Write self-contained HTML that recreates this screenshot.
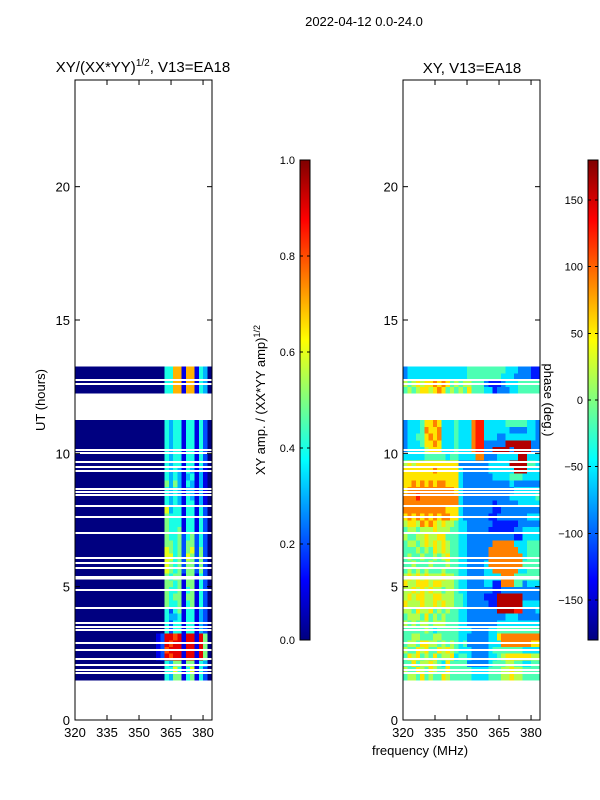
<!DOCTYPE html>
<html><head><meta charset="utf-8">
<style>
html,body{margin:0;padding:0;background:#fff;}
svg{display:block;font-family:"Liberation Sans",sans-serif;}
</style></head>
<body>
<svg id="fig" width="600" height="800" viewBox="0 0 600 800" xmlns="http://www.w3.org/2000/svg">
<rect width="600" height="800" fill="#fff"/>
<text x="364" y="26" font-size="13" text-anchor="middle">2022-04-12 0.0-24.0</text>
<text x="143" y="72" font-size="15" text-anchor="middle">XY/(XX*YY)<tspan font-size="10" dy="-6">1/2</tspan><tspan dy="6">, V13=EA18</tspan></text>
<text x="472" y="73" font-size="15" text-anchor="middle">XY, V13=EA18</text>
<text x="45" y="400" font-size="13" text-anchor="middle" transform="rotate(-90 45 400)">UT (hours)</text>
<text x="420" y="755" font-size="13" text-anchor="middle">frequency (MHz)</text>
<text x="265" y="400" font-size="13" text-anchor="middle" transform="rotate(-90 265 400)">XY amp. / (XX*YY amp)<tspan font-size="9" dy="-5">1/2</tspan></text>
<text x="544" y="400" font-size="13" text-anchor="middle" transform="rotate(90 544 400)">phase (deg.)</text>
<g id="g1"></g>
<g id="g2"></g>
</svg>
<script>
const NS="http://www.w3.org/2000/svg";
// ---- data ----
const tStart=1.5, tStep=0.25;       // row time bins (hours)
const fStart=320, fStep=2;          // frequency bins (MHz)
const ampRows=[
"00000000000000000000043551451420",
"00000000000000000000044641461420",
"00000000000000000000043551551430",
"00000000000000000001298991991950",
"00000000000000000001289991991950",
"00000000000000000001298991991950",
"00000000000000000001299891991950",
"00000000000000000000042441441320",
"00000000000000000000042441441320",
"00000000000000000000043341441320",
"00000000000000000000042451441320",
"00000000000000000000054451451420",
"00000000000000000000054551551420",
"00000000000000000000054451451420",
"00000000000000000000055451551420",
"00000000000000000000054551551420",
"00000000000000000000065452552520",
"00000000000000000000065452552520",
"00000000000000000000066452652520",
"00000000000000000000065452562520",
"00000000000000000000055452552420",
"00000000000000000000054452452420",
"00000000000000000000054451441420",
"00000000000000000000054441441420",
"00000000000000000000054441441420",
"00000000000000000000063441441420",
"00000000000000000000043431441310",
"00000000000000000000043431431310",
"00000000000000000000043431331310",
"00000000000000000000053531431310",
"00000000000000000000043431341310",
"00000000000000000000043431431310",
"00000000000000000000043441441420",
"00000000000000000000043441441420",
"00000000000000000000043441441420",
"00000000000000000000043441441420",
"00000000000000000000043441441420",
"00000000000000000000043441441420",
"00000000000000000000043441441420",
"","","","",
"00000000000000000000044771771430",
"00000000000000000000044771771430",
"00000000000000000000044771771430",
"00000000000000000000044771771430"
];
const phaseRows=[
"45546454465444443333444556554444",
"54465465446444443333444556554444",
"44645565436444422222344455443344",
"46564546455634432222334566666655",
"54465644656543332222344444443333",
"45546655454543422222333777777766",
"44554445544443322222336777777777",
"44444543444443332222334444444444",
"54545545554443322222223333333333",
"45554645454443322222222233322222",
"55465564545443322222229999882223",
"65556556565544322222119999993333",
"56566556655544322221119999992222",
"55656565545543322222211222222222",
"65566656655543322223311777442333",
"56565655565543322223333777444444",
"45454544454443322223377777733444",
"44544454445443322223777777774444",
"45445445456443322222777777773444",
"44454546565443322222777777733444",
"45545656565443322222277777333444",
"54455655664443322222222222113333",
"45545556555443322222111111223333",
"56657676565543322222211111122222",
"67676767677663222222112222222333",
"77777777776663222222211222222222",
"77777777777773222222212222233333",
"77787777777773222222222223333334",
"67777777777763222222222222333333",
"66767676776663222222222223222222",
"66666666666663222222233334443333",
"66666667666663222222333333999333",
"56566666666662222222333339999443",
"33333444443443333772223333399333",
"23333566633343337882299992999922",
"23334667633343337882222299999922",
"23344676733343337883332233333332",
"23334766733343337883333332222332",
"23334667633343337883333344444332",
"","","","",
"45456656764545464443312223344444",
"54565667676454554442111233344444",
"23333333333333344444444333222211",
"23333333333333344444444433322211"
];
const gapHours=[12.75,12.6,10.12,10.01,9.67,9.49,9.34,8.66,8.55,8.44,8.03,7.61,7.01,6.08,5.89,5.7,5.36,5.3,4.88,4.2,3.64,3.49,3.38,2.89,2.63,2.29,2.06,1.88,1.76];
const yTicks=[0,5,10,15,20];
const xTicks=[320,335,350,365,380];
const ampTicks=["0.0","0.2","0.4","0.6","0.8","1.0"];
const phaseTicks=[-150,-100,-50,0,50,100,150];
// ---- scales ----
const Y0=720, PXH=640/24;
function yScale(h){return Y0-h*PXH;}
function xScale(f,left){return left+(f-320)*(137/64.2);}
function jet(v){
  v=Math.max(0,Math.min(1,v));
  const r=Math.max(0,Math.min(1,1.5-Math.abs(4*v-3)));
  const g=Math.max(0,Math.min(1,1.5-Math.abs(4*v-2)));
  const b=Math.max(0,Math.min(1,1.5-Math.abs(4*v-1)));
  return `rgb(${Math.round(r*255)},${Math.round(g*255)},${Math.round(b*255)})`;
}
function mk(tag,attrs,parent){const e=document.createElementNS(NS,tag);for(const k in attrs)e.setAttribute(k,attrs[k]);parent.appendChild(e);return e;}

function panel(gid,left,rows,valFn,name){
  const g=document.getElementById(gid);
  const W=137;
  const cells=mk('g',{'shape-rendering':'crispEdges'},g);
  
  
  rows.forEach((row,i)=>{
    if(!row)return;
    const t0=tStart+i*tStep, t1=t0+tStep;
    for(let c=0;c<32;c++){
      const ch=row[c]||'0';
      const f0=fStart+c*fStep, f1=Math.min(f0+fStep,384.2);
      const x0=xScale(f0,left), x1=xScale(f1,left);
      const r=mk('rect',{x:x0.toFixed(2),y:yScale(t1).toFixed(2),width:(x1-x0+0.5).toFixed(2),height:(yScale(t0)-yScale(t1)+0.3).toFixed(2),fill:jet(valFn(+ch))},cells);
      
      
    }
  });
  gapHours.forEach(h=>{
    const l=mk('rect',{x:left,y:(yScale(h)-1).toFixed(2),width:W,height:2,fill:'#fff'},cells);
    
    
  });
  const fr=mk('rect',{x:left,y:80,width:W,height:640,fill:'none',stroke:'#000','stroke-width':1},g);
  
  
  yTicks.forEach(h=>{
    const y=yScale(h);
    mk('line',{x1:left,x2:left+5,y1:y,y2:y,stroke:'#000'},g);
    mk('line',{x1:left+W,x2:left+W-5,y1:y,y2:y,stroke:'#000'},g);
    const t=mk('text',{x:left-5,y:y+5,'font-size':13,'text-anchor':'end'},g);
    t.textContent=h;
    
    
  });
  xTicks.forEach(f=>{
    const x=xScale(f,left);
    mk('line',{x1:x,x2:x,y1:720,y2:715,stroke:'#000'},g);
    mk('line',{x1:x,x2:x,y1:80,y2:85,stroke:'#000'},g);
    const t=mk('text',{x:x,y:737,'font-size':13,'text-anchor':'middle'},g);
    t.textContent=f;
    
    
  });
}
panel('g1',75,ampRows,d=>d/10,'amp');
panel('g2',403,phaseRows,d=>(d+0.5)/10,'phase');

function colorbar(left,labels,valOf,name){
  const g=document.getElementById('fig');
  const cb=mk('g',{'shape-rendering':'crispEdges'},g);
  
  
  for(let i=0;i<480;i++){
    mk('rect',{x:left,y:640-i-1,width:10,height:1.2,fill:jet((i+0.5)/480)},cb);
  }
  mk('rect',{x:left,y:160,width:10,height:480,fill:'none',stroke:'#000','stroke-width':1},cb);
  labels.forEach(lb=>{
    const v=valOf(lb);
    const y=640-v*480;
    mk('line',{x1:left,x2:left+3,y1:y,y2:y,stroke:'#000'},cb);
    mk('line',{x1:left+10,x2:left+7,y1:y,y2:y,stroke:'#000'},cb);
    const t=mk('text',{x:left-5,y:y+4,'font-size':11,'text-anchor':'end'},cb);
    t.textContent=String(lb).replace('-','\u2212');
    
    
  });
}
colorbar(300,ampTicks,s=>parseFloat(s),'amp-colorbar');
colorbar(588,phaseTicks,v=>(v+180)/360,'phase-colorbar');
</script>
</body></html>
